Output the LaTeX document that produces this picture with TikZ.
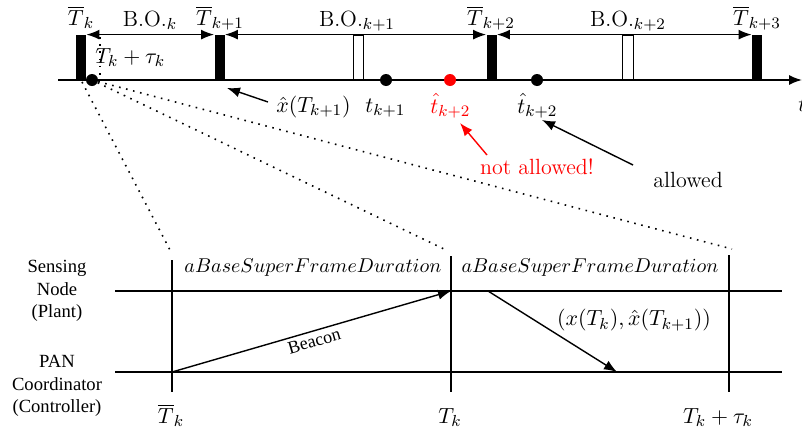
\documentclass[tikz,border=0pt]{standalone}
\usepackage{fontspec}
\newfontfamily\tmsf{Liberation Serif}
\usetikzlibrary{arrows.meta}
\begin{document}
\begin{tikzpicture}[x=0.5pt,y=-0.5pt,
  lbl/.style={font=\fontsize{11}{13}\selectfont, inner sep=0pt},
  abl/.style={font=\fontsize{9.8}{12}\selectfont, inner sep=0pt},
  tms/.style={font=\tmsf\fontsize{9.3}{11.25}\selectfont, align=center, inner sep=0pt},
  sbar/.style={fill=black, draw=none, minimum width=5pt, minimum height=22.5pt, inner sep=0pt},
  hbar/.style={draw=black, fill=white, line width=0.55pt, minimum width=5.2pt, minimum height=22.5pt, inner sep=0pt},
  tdot/.style={circle, fill=black, minimum size=6pt, inner sep=0pt},
  arr/.style={-{Latex[length=6.5pt,width=5pt]}, line width=0.7pt},
  darr/.style={{Latex[length=6.5pt,width=5pt]}-{Latex[length=6.5pt,width=5pt]}, line width=0.7pt},
  dots/.style={line width=0.8pt, dash pattern=on 0.8pt off 2.8pt},
  seq/.style={line width=0.75pt}]
\useasboundingbox (0,0) rectangle (802,434);

% time line
\coordinate (tl) at (58,80);
\coordinate (tr) at (802,80);
\draw[arr, line width=0.8pt] (tl) -- (tr);

% dotted vertical at T_k + tau_k
\coordinate (tauup) at (100,37);
\coordinate (taudn) at (100,78);
\draw[dots] (tauup) -- (taudn);

% bars
\node[sbar] (b0) at (81,57.5) {};
\node[sbar] (b1) at (219.5,57.5) {};
\node[hbar] (h1) at (358.5,57.5) {};
\node[sbar] (b2) at (491.5,57.5) {};
\node[hbar] (h2) at (628,57.5) {};
\node[sbar] (b3) at (757,57.5) {};

% beacon order arrows
\draw[darr] (b0.north east) -- (b1.north west);
\draw[darr] (b1.north east) -- (b2.north west);
\draw[darr] (b2.north east) -- (b3.north west);

% top labels
\node[lbl, anchor=base] (lT0) at (81,25) {$\overline{T}_k$};
\node[lbl, anchor=base] (lT1) at (220,25) {$\overline{T}_{k+1}$};
\node[lbl, anchor=base] (lT2) at (491,25) {$\overline{T}_{k+2}$};
\node[lbl, anchor=base] (lT3) at (757,25) {$\overline{T}_{k+3}$};
\node[lbl, anchor=base] (bo0) at (150,26) {B.O.$_k$};
\node[lbl, anchor=base] (bo1) at (357,26) {B.O.$_{k+1}$};
\node[lbl, anchor=base] (bo2) at (628,26) {B.O.$_{k+2}$};
\node[lbl, anchor=base west] (ltau) at (95,63) {$T_k+\tau_k$};

% dots on the time line
\node[tdot] (d0) at (92,80) {};
\node[tdot] (d1) at (386,80) {};
\node[tdot, fill=red] (d2) at (450,80) {};
\node[tdot] (d3) at (537,80) {};

% labels below the time line
\node[lbl, anchor=base west] (xh) at (276,112) {$\hat{x}(T_{k+1})$};
\node[lbl, anchor=base west] (l1) at (365,112) {$t_{k+1}$};
\node[lbl, anchor=base west, text=red] (l2) at (430,113) {$\hat{t}_{k+2}$};
\node[lbl, anchor=base west] (l3) at (517,113) {$\hat{t}_{k+2}$};
\node[lbl, anchor=base west] (lt) at (798,111) {$t$};
\node[lbl, text=red] (na) at (537,167) {not allowed!};
\node[lbl] (al) at (688,180) {allowed};

% pointer arrows
\coordinate (xa0) at (268,102);
\coordinate (xa1) at (227,88);
\draw[arr] (xa0) -- (xa1);
\coordinate (ra0) at (487,155);
\coordinate (ra1) at (460,123);
\draw[arr, red] (ra0) -- (ra1);
\coordinate (ka0) at (633,165);
\coordinate (ka1) at (542,120);
\draw[arr] (ka0) -- (ka1);

% zoom dotted lines
\coordinate (o0) at (82,82);
\coordinate (g0) at (170,250);
\coordinate (g1) at (446,250);
\coordinate (g2) at (732,249);
\draw[dots] (o0) -- (g0);
\draw[dots] (d0) -- (g1);
\draw[dots] (d0) -- (g2);

% sequence diagram
\coordinate (sL) at (115,291);
\coordinate (sR) at (782,291);
\coordinate (pL) at (115,372);
\coordinate (pR) at (782,372);
\draw[seq] (sL) -- (sR);
\draw[seq] (pL) -- (pR);
\coordinate (v0t) at (172,260);
\coordinate (v0b) at (172,392);
\coordinate (v1t) at (451,256);
\coordinate (v1b) at (451,392);
\coordinate (v2t) at (729,255);
\coordinate (v2b) at (729,392);
\draw[seq] (v0t) -- (v0b);
\draw[seq] (v1t) -- (v1b);
\draw[seq] (v2t) -- (v2b);

\node[abl, anchor=base] (ab0) at (313,272) {$aBaseSuperFrameDuration$};
\node[abl, anchor=base] (ab1) at (590,272) {$aBaseSuperFrameDuration$};

\coordinate (e0) at (172,372);
\coordinate (e1) at (451,291);
\draw[arr] (e0) -- node[tms, below, sloped, inner sep=1.6pt, font=\tmsf\fontsize{9}{11}\selectfont] (bc) {Beacon} (e1);
\coordinate (f0) at (488,291);
\coordinate (f1) at (617,372);
\draw[arr] (f0) -- (f1);
\node[lbl] (xx) at (634,320) {$(x(T_k),\hat{x}(T_{k+1}))$};

\node[tms] (sn) at (57,291) {Sensing\\Node\\(Plant)};
\node[tms] (pc) at (57,386) {PAN\\Coordinator\\(Controller)};

\node[lbl, anchor=base] (bt0) at (171,423) {$\overline{T}_k$};
\node[lbl, anchor=base] (bt1) at (450,423) {$T_k$};
\node[lbl, anchor=base] (bt2) at (718,423) {$T_k+\tau_k$};
\end{tikzpicture}
\end{document}
